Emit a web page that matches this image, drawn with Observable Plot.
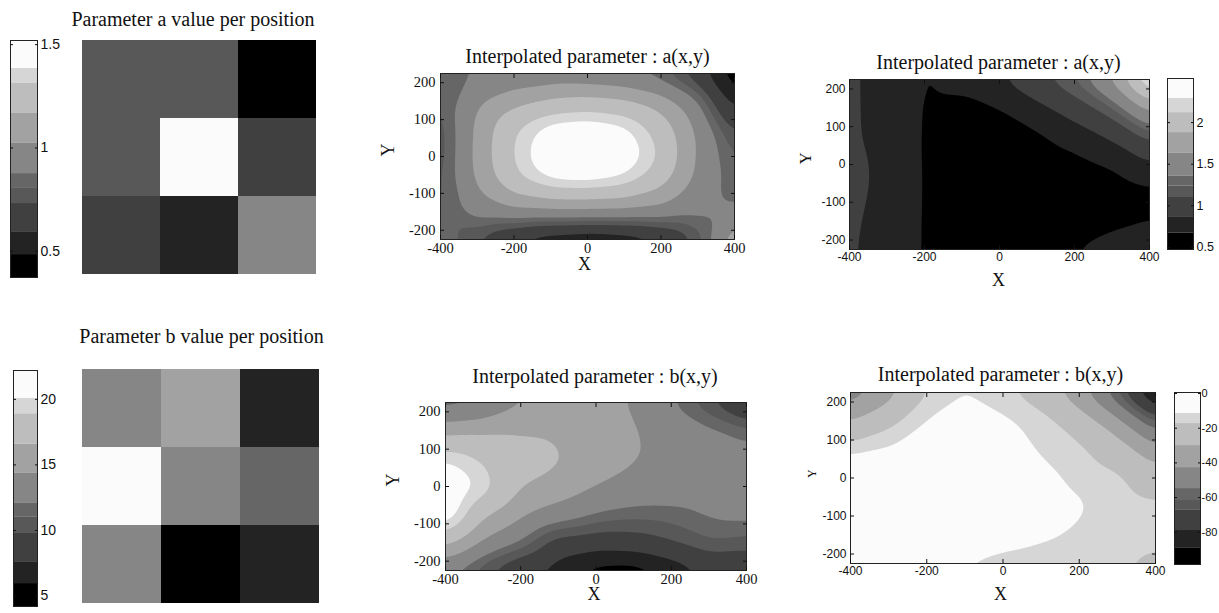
<!DOCTYPE html>
<html><head><meta charset="utf-8">
<script src="https://cdn.jsdelivr.net/npm/d3@7"></script>
<script src="https://cdn.jsdelivr.net/npm/@observablehq/plot@0.6"></script>
<style>
html,body{margin:0;padding:0;background:#fff;}
body{width:1219px;height:613px;overflow:hidden;position:relative;}
.p{position:absolute;}
</style></head><body>
<script>
// ---------- data ----------
const greys = ["#000000", "#232323", "#404040", "#585858", "#666666", "#868686", "#a2a2a2", "#bdbdbd", "#d6d6d6", "#fbfbfb"];

const aLevels    = [0.373, 0.484, 0.591, 0.731, 0.804, 0.876, 1.022, 1.167, 1.312, 1.385, 1.52];
const bLevels    = [4.2, 5.95, 7.56, 9.77, 11.0, 12.06, 14.35, 16.6, 18.9, 20.08, 22.2];
const aFitLevels = [0.475, 0.67, 0.86, 1.10, 1.24, 1.36, 1.63, 1.88, 2.12, 2.29, 2.53];
const bFitLevels = [-98.6, -89.3, -79, -67.4, -61.7, -54.8, -42.7, -30, -17.3, -11.5, 0.6];

const aTicks = [0.5, 1, 1.5];
const bTicks = [5, 10, 15, 20];
const aFitTicks = [0.5, 1, 1.5, 2];
const bFitTicks = [-80, -60, -40, -20, 0];
const xTicks = [-400, -200, 0, 200, 400];
const yTicks = [-200, -100, 0, 100, 200];

// 3x3 measured values per position (top row first)
const aCells = [[0.80, 0.80, 0.42], [0.77, 1.48, 0.65], [0.65, 0.54, 0.95]];
const bCells = [[13.0, 15.5, 6.8], [21.0, 13.0, 11.5], [13.0, 5.0, 6.8]];

// sample grid
const xGrid = [-400, -300, -200, -100, 0, 100, 200, 300, 400];
const yGrid = [225, 150, 75, 0, -75, -150, -225];

const aInterp = [
  [0.85, 0.88, 0.90, 0.90, 0.88, 0.86, 0.80, 0.64, 0.40],
  [0.78, 1.00, 1.12, 1.20, 1.23, 1.20, 1.10, 0.90, 0.52],
  [0.74, 1.06, 1.31, 1.44, 1.46, 1.42, 1.26, 1.00, 0.70],
  [0.74, 1.07, 1.33, 1.48, 1.52, 1.47, 1.31, 1.00, 0.78],
  [0.76, 1.04, 1.27, 1.38, 1.39, 1.35, 1.21, 0.97, 0.82],
  [0.80, 0.95, 1.00, 1.00, 1.00, 1.00, 0.98, 0.92, 0.90],
  [0.90, 0.72, 0.55, 0.45, 0.42, 0.45, 0.55, 0.75, 1.18]
];
const bInterp = [
  [10.8, 11.5, 14.0, 15.0, 15.5, 14.0, 12.1, 9.8, 6.5],
  [15.8, 16.3, 16.3, 16.2, 15.5, 14.6, 13.0, 12.5, 11.5],
  [20.1, 18.7, 17.8, 16.9, 15.5, 14.6, 13.5, 13.0, 12.8],
  [22.0, 20.0, 16.7, 15.8, 14.4, 13.5, 13.2, 13.0, 12.8],
  [21.8, 17.0, 14.8, 13.3, 12.0, 11.5, 11.6, 12.3, 12.6],
  [17.5, 14.0, 12.0, 8.7, 8.5, 8.8, 9.8, 11.0, 10.5],
  [12.0, 9.8, 7.6, 6.5, 5.0, 4.8, 6.0, 7.8, 8.0]
];
const aFit = [
  [0.90, 0.77, 0.655, 0.71, 0.85, 1.06, 1.26, 1.70, 2.45],
  [0.90, 0.775, 0.655, 0.63, 0.66, 0.79, 0.98, 1.22, 1.75],
  [0.90, 0.78, 0.655, 0.61, 0.60, 0.64, 0.74, 0.88, 1.17],
  [0.93, 0.80, 0.655, 0.60, 0.58, 0.58, 0.61, 0.68, 0.83],
  [0.92, 0.80, 0.655, 0.59, 0.56, 0.55, 0.55, 0.57, 0.62],
  [0.90, 0.78, 0.655, 0.59, 0.56, 0.55, 0.56, 0.59, 0.65],
  [0.89, 0.77, 0.655, 0.61, 0.60, 0.62, 0.67, 0.81, 0.93]
];
const bFit = [
  [-52, -36, -17.3, -12, -16, -22.7, -39.4, -64.5, -96],
  [-30, -20, -11, -6, -10, -14, -22.5, -39, -64],
  [-13, -10.5, -7, -5, -7, -12.5, -15.5, -22.5, -39.6],
  [-4, -4, -4.5, -5, -6, -9, -13, -15.5, -22.8],
  [-2, -3, -4.5, -5.5, -7, -8.5, -10.5, -14, -15.5],
  [-4, -4.5, -5.5, -7, -8, -10, -12.5, -14, -15.5],
  [-8, -9, -10, -12, -14, -15, -16, -16.8, -19]
];

// ---------- helpers ----------
const serif = "'Liberation Serif', 'Times New Roman', serif";
const sans = "'Liberation Sans', Arial, sans-serif";
const ink = "#111";

function place(node, left, top, width) {
  const d = document.createElement("div");
  d.className = "p";
  d.style.left = left + "px";
  d.style.top = top + "px";
  d.style.width = width + "px";
  d.appendChild(node);
  document.body.appendChild(d);
}
function colorScale(levels) {
  return {type: "threshold", domain: levels.slice(1, -1), range: greys};
}
function baseStyle(font, size) {
  return {fontFamily: font, fontSize: size + "px", color: ink, background: "transparent", overflow: "visible", maxWidth: "none"};
}
function titleMark(t, dx, dy) {
  return Plot.text([t], {text: d => d, frameAnchor: "top", dx, dy, lineAnchor: "middle", fontFamily: serif, fontSize: 20, fill: ink});
}

function heatmap(o) {
  const data = o.cells.flatMap((row, i) => row.map((v, j) => ({col: j, row: i, v})));
  const svg = Plot.plot({
    width: o.width, height: o.height,
    marginLeft: o.mL, marginRight: o.mR, marginTop: o.mT, marginBottom: o.mB,
    x: {type: "band", domain: [0, 1, 2], padding: 0, axis: null},
    y: {type: "band", domain: [0, 1, 2], padding: 0, axis: null},
    color: colorScale(o.levels),
    style: baseStyle(serif, 20),
    marks: [
      Plot.cell(data, {x: "col", y: "row", fill: "v", inset: 0}),
      titleMark(o.title, o.tdx, o.tdy)
    ]
  });
  place(svg, o.left, o.top, o.width);
}

function colorbar(o) {
  const bands = d3.pairs(o.levels).map(([lo, hi]) => ({lo, hi, mid: (lo + hi) / 2}));
  const svg = Plot.plot({
    width: o.width, height: o.height,
    marginLeft: o.mL, marginRight: o.mR, marginTop: o.mT, marginBottom: o.mB,
    y: {domain: [o.levels[0], o.levels[o.levels.length - 1]]},
    color: colorScale(o.levels),
    style: baseStyle(sans, o.fontSize),
    marks: [
      Plot.barY(bands, {y1: "lo", y2: "hi", fill: "mid"}),
      Plot.frame({stroke: "#222"}),
      Plot.axisY({anchor: "right", ticks: o.ticks, tickFormat: d => `${d}`, tickSize: -3, tickPadding: o.pad ?? 6, label: null, fontSize: o.fontSize, fill: ink}),
      Plot.axisY({anchor: "left", ticks: o.ticks, tickFormat: () => "", tickSize: -3, label: null})
    ]
  });
  place(svg, o.left, o.top, o.width);
}

function contourPanel(o) {
  const pts = o.rows.flatMap((row, i) => row.map((v, j) => ({x: xGrid[j], y: yGrid[i], v})));
  const svg = Plot.plot({
    width: o.width, height: o.height,
    marginLeft: o.mL, marginRight: o.mR, marginTop: o.mT, marginBottom: o.mB,
    x: {domain: [-400, 400]},
    y: {domain: [-225, 225]},
    color: colorScale(o.levels),
    style: baseStyle(o.tickFont, o.tickFontSize),
    marks: [
      Plot.contour(pts, {x: "x", y: "y", fill: "v", interpolate: "barycentric", thresholds: o.levels, blur: 9, pixelSize: 1, stroke: "none"}),
      Plot.frame({stroke: "#222"}),
      Plot.axisX({anchor: "bottom", ticks: xTicks, tickFormat: d => `${d}`, tickSize: -4, tickPadding: o.xPad, label: null, fontSize: o.tickFontSize, fill: ink}),
      Plot.axisX({anchor: "top", ticks: xTicks, tickFormat: () => "", tickSize: -4, label: null}),
      Plot.axisY({anchor: "left", ticks: yTicks, tickFormat: d => `${d}`, tickSize: -4, tickPadding: o.yPad, label: null, fontSize: o.tickFontSize, fill: ink}),
      Plot.axisY({anchor: "right", ticks: yTicks, tickFormat: () => "", tickSize: -4, label: null}),
      titleMark(o.title, o.tdx, o.tdy),
      Plot.text(["X"], {text: d => d, frameAnchor: "bottom", dx: o.xdx, dy: o.xdy, lineAnchor: "middle", fontFamily: serif, fontSize: 18, fill: ink}),
      Plot.text(["Y"], {text: d => d, frameAnchor: "left", dx: o.ydx, dy: 0, rotate: -90, lineAnchor: "middle", fontFamily: serif, fontSize: o.ySize, fill: ink})
    ]
  });
  place(svg, o.left, o.top, o.width);
}

// ---------- panels ----------
colorbar({levels: aLevels, ticks: aTicks, left: 0, top: 30, width: 75, height: 260, mL: 10, mR: 38, mT: 10, mB: 13, fontSize: 14});
heatmap({cells: aCells, levels: aLevels, title: "Parameter a value per position",
  left: 60, top: 0, width: 280, height: 290, mL: 22, mR: 24, mT: 39, mB: 16, tdx: -6.5, tdy: -20.4});

colorbar({levels: bLevels, ticks: bTicks, left: 0, top: 360, width: 75, height: 253, mL: 13, mR: 38, mT: 10, mB: 7, fontSize: 14});
heatmap({cells: bCells, levels: bLevels, title: "Parameter b value per position",
  left: 60, top: 310, width: 280, height: 303, mL: 21, mR: 21, mT: 58, mB: 10, tdx: 1, tdy: -32.4});

contourPanel({rows: aInterp, levels: aLevels, title: "Interpolated parameter : a(x,y)",
  left: 370, top: 35, width: 380, height: 250, mL: 70, mR: 16, mT: 38, mB: 46,
  tickFont: serif, tickFontSize: 14.5, xPad: 7, yPad: 9, tdx: 0, tdy: -17.4, xdx: -3, xdy: 25.2, ydx: -52, ySize: 18});

contourPanel({rows: aFit, levels: aFitLevels, title: "Interpolated parameter : a(x,y)",
  left: 790, top: 40, width: 370, height: 255, mL: 59, mR: 11, mT: 39, mB: 46,
  tickFont: sans, tickFontSize: 12, xPad: 7, yPad: 8, tdx: -1, tdy: -17.4, xdx: -1, xdy: 30.4, ydx: -44, ySize: 17});
colorbar({levels: aFitLevels, ticks: aFitTicks, left: 1150, top: 65, width: 69, height: 195, mL: 17, mR: 26, mT: 13, mB: 11, fontSize: 12.5});

contourPanel({rows: bInterp, levels: bLevels, title: "Interpolated parameter : b(x,y)",
  left: 370, top: 350, width: 385, height: 263, mL: 75, mR: 9, mT: 52, mB: 43,
  tickFont: serif, tickFontSize: 14.5, xPad: 7, yPad: 9, tdx: -1, tdy: -26.4, xdx: -2, xdy: 24.2, ydx: -52, ySize: 18});

contourPanel({rows: bFit, levels: bFitLevels, title: "Interpolated parameter : b(x,y)",
  left: 790, top: 345, width: 375, height: 268, mL: 60, mR: 10, mT: 47, mB: 50,
  tickFont: sans, tickFontSize: 12, xPad: 7, yPad: 8, tdx: -2.5, tdy: -18.4, xdx: -2.5, xdy: 31.2, ydx: -38, ySize: 12});
colorbar({levels: bFitLevels, ticks: bFitTicks, left: 1160, top: 382, width: 59, height: 190, mL: 14, mR: 19, mT: 10, mB: 8, fontSize: 11, pad: 4});
</script>
</body></html>
